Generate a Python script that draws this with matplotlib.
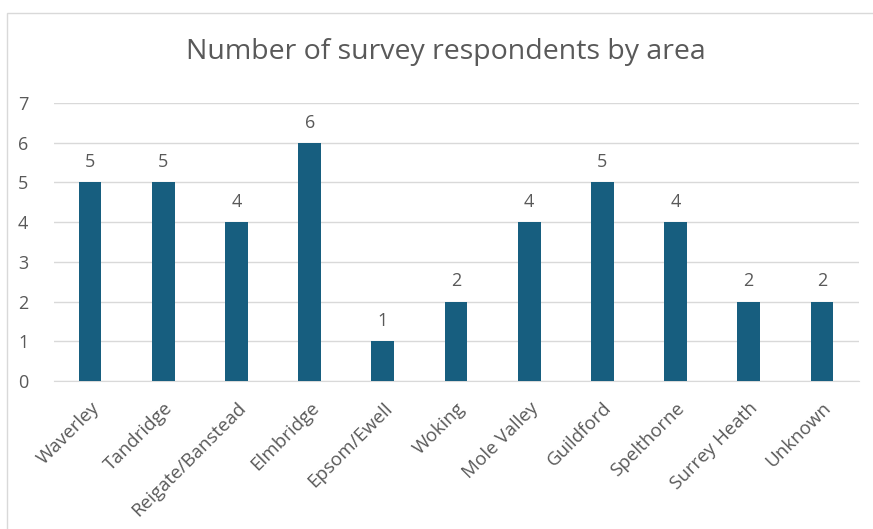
import matplotlib
matplotlib.use("Agg")
import matplotlib.pyplot as plt
from matplotlib.patches import Rectangle

categories = ["Waverley", "Tandridge", "Reigate/Banstead", "Elmbridge", "Epsom/Ewell",
              "Woking", "Mole Valley", "Guildford", "Spelthorne", "Surrey Heath", "Unknown"]
values = [5, 5, 4, 6, 1, 2, 4, 5, 4, 2, 2]
yticks = [0, 1, 2, 3, 4, 5, 6, 7]

plt.rcParams['font.family'] = ['Open Sans', 'DejaVu Sans']
txt = '#595959'

fig = plt.figure(figsize=(8.73, 5.29), dpi=100)
fig.patches.append(Rectangle((6.5/873, -0.01), 1.0, 1 - 12.5/529 + 0.01, transform=fig.transFigure,
                             fill=False, edgecolor='#d9d9d9', linewidth=1.0))
ax = fig.add_axes([53.5/873, 1 - 381/529, (858.5 - 53.5)/873, (381 - 103)/529])

x = range(len(categories))
bars = ax.bar(x, values, width=0.31, color='#175e7f', zorder=3)
for xi, v in zip(x, values):
    ax.annotate(str(v), (xi, v), xytext=(0, 8), textcoords='offset points',
                ha='center', va='bottom', fontsize=13, color=txt)

ax.set_xlim(-0.5, len(categories) - 0.5)
ax.set_ylim(0, 7)
ax.set_yticks(yticks)
ax.set_xticks(list(x))
ax.set_xticklabels(categories, rotation=45, ha='right', rotation_mode='anchor',
                   fontsize=13.5, color=txt)
ax.tick_params(axis='y', labelsize=13, labelcolor=txt, length=0, pad=18)
ax.tick_params(axis='x', length=0, pad=13)
ax.grid(axis='y', color='#d9d9d9', linewidth=1.0, zorder=0)
for s in ['top', 'right', 'left']:
    ax.spines[s].set_visible(False)
ax.spines['bottom'].set_color('#d9d9d9')

fig.text(446/873, 1 - 52/529, "Number of survey respondents by area", ha='center', va='center',
         fontsize=20.5, color=txt)

fig.savefig("out.png", dpi=100)
